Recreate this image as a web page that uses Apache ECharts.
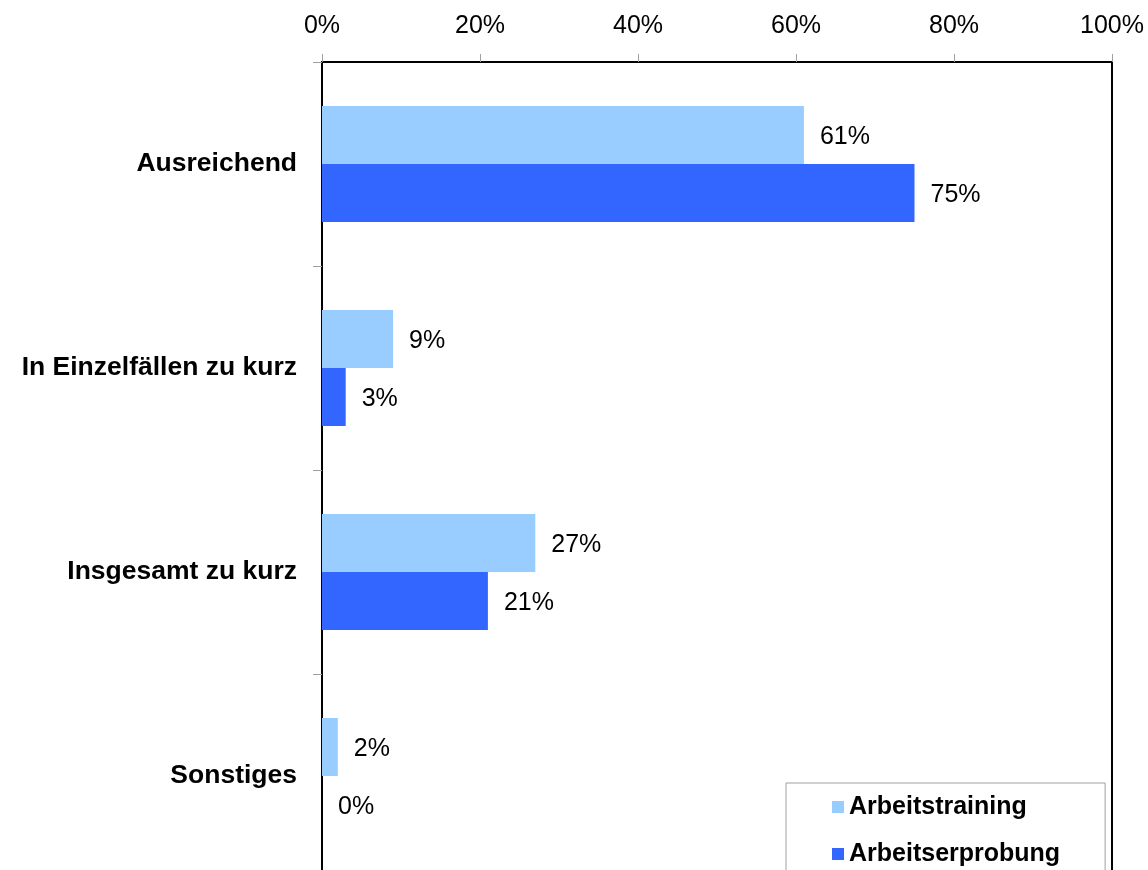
<!DOCTYPE html>
<html>
<head>
<meta charset="utf-8">
<script src="https://cdn.jsdelivr.net/npm/echarts@6/dist/echarts.min.js"></script>
<style>
  html, body { margin: 0; padding: 0; background: #fff; }
  #chart { width: 1148px; height: 870px; }
</style>
</head>
<body>
<div id="chart"></div>
<script>
// Categories (top to bottom) and the two series, in percent
const categories = ['Ausreichend', 'In Einzelfällen zu kurz', 'Insgesamt zu kurz', 'Sonstiges'];
const arbeitstraining = [61, 9, 27, 2];
const arbeitserprobung = [75, 3, 21, 0];
const seriesNames = ['Arbeitstraining', 'Arbeitserprobung'];
const xTicks = { min: 0, max: 100, interval: 20 };

const FONT = '"Liberation Sans", Arial, sans-serif';

const chart = echarts.init(document.getElementById('chart'), null, { renderer: 'canvas' });

const valueLabel = {
  show: true,
  position: 'right',
  distance: 16,
  offset: [0, 2],
  formatter: p => p.value + '%',
  color: '#000',
  fontFamily: FONT,
  fontSize: 25
};

chart.setOption({
  animation: false,
  backgroundColor: '#fff',
  grid: {
    left: 322,
    top: 62,
    width: 790,
    height: 816,
    outerBoundsMode: 'none',
    show: true,
    borderColor: '#000',
    borderWidth: 2,
    backgroundColor: 'transparent'
  },
  xAxis: {
    type: 'value',
    position: 'top',
    min: xTicks.min,
    max: xTicks.max,
    interval: xTicks.interval,
    axisLine: { show: true, lineStyle: { color: '#000', width: 2 } },
    axisTick: { show: true, length: 8, lineStyle: { color: '#a0a0a0', width: 1 } },
    splitLine: { show: false },
    axisLabel: {
      formatter: v => v + '%',
      color: '#000',
      fontFamily: FONT,
      fontSize: 25,
      margin: 23
    }
  },
  yAxis: {
    type: 'category',
    data: categories,
    inverse: true,
    axisLine: { show: true, lineStyle: { color: '#000', width: 2 } },
    axisTick: { show: true, length: 9, lineStyle: { color: '#a0a0a0', width: 1 } },
    axisLabel: {
      color: '#000',
      fontFamily: FONT,
      fontSize: 26.5,
      fontWeight: 'bold',
      padding: [4, 0, 0, 0],
      margin: 25
    }
  },
  legend: {
    orient: 'vertical',
    left: 786,
    top: 783,
    height: 160,
    padding: [9, 45, 30, 46],
    itemGap: 17,
    itemWidth: 12,
    itemHeight: 12,
    icon: 'rect',
    borderColor: '#a0a0a0',
    borderWidth: 1,
    backgroundColor: '#fff',
    textStyle: {
      color: '#000',
      fontFamily: FONT,
      fontSize: 25,
      fontWeight: 'bold',
      lineHeight: 30
    },
    data: seriesNames
  },
  series: [
    {
      name: seriesNames[0],
      type: 'bar',
      data: arbeitstraining,
      barWidth: 58,
      barGap: '0%',
      itemStyle: { color: '#99CCFF' },
      label: valueLabel
    },
    {
      name: seriesNames[1],
      type: 'bar',
      data: arbeitserprobung,
      barWidth: 58,
      barGap: '0%',
      itemStyle: { color: '#3366FF' },
      label: valueLabel
    }
  ]
});
</script>
</body>
</html>
